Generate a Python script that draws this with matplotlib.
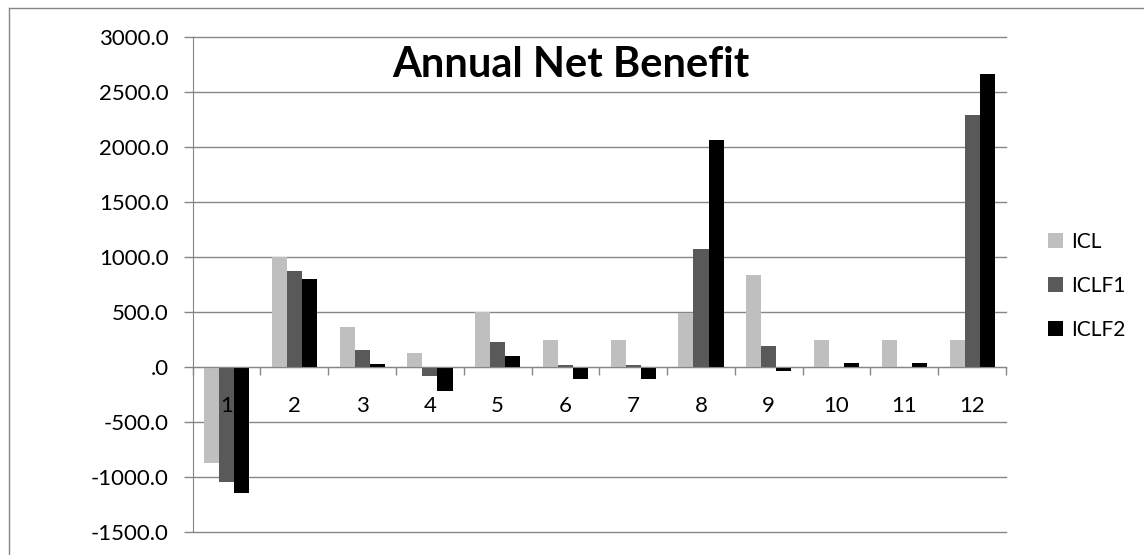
import matplotlib

matplotlib.use("Agg")
import matplotlib.pyplot as plt
import matplotlib.ticker as tick
import matplotlib.transforms as mtrans
import numpy as np
from matplotlib.lines import Line2D
from matplotlib.patches import Patch

months = [str(i) for i in range(1, 13)]
icl = [-870, 1000, 366, 130, 503, 250, 250, 490, 840, 250, 250, 250]
iclf1 = [-1040, 875, 157, -79, 230, 25, 25, 1075, 194, -8, -8, 2294]
iclf2 = [-1140, 803, 30, -212, 103, -105, -105, 2066, -30, 39, 40, 2666]
series_names = ["ICL", "ICLF1", "ICLF2"]
colors = ["#bfbfbf", "#595959", "#000000"]
title = "Annual Net Benefit"

plt.rcParams["font.family"] = ["Lato", "DejaVu Sans"]
grid_col = "#868686"

W, H = 1144, 555
fig = plt.figure(figsize=(W / 100, H / 100), dpi=100)
ax = fig.add_axes([192.7 / W, 1 - 532.3 / H, (1006 - 192.7) / W, (532.3 - 37.3) / H])

x = np.arange(1, len(months) + 1)
w = 1 / 4.5
for k, (vals, c) in enumerate(zip([icl, iclf1, iclf2], colors)):
    ax.bar(x + (k - 1) * w, vals, width=w, color=c, zorder=2)

ax.set_xlim(0.5, len(months) + 0.5)
ax.set_ylim(-1500, 3000)
ax.yaxis.set_major_locator(tick.MultipleLocator(500))


def fmt(v, pos):
    s = f"{v:.1f}"
    return ".0" if s in ("0.0", "-0.0") else s


ax.yaxis.set_major_formatter(tick.FuncFormatter(fmt))
ax.set_axisbelow(True)
ax.yaxis.grid(True, color=grid_col, lw=1.0)
for gl in ax.yaxis.get_gridlines():
    gl.set_clip_on(False)
ax.tick_params(axis="y", direction="out", length=6.5, width=1.0, color=grid_col,
               pad=11, labelsize=16, labelcolor="black")

for s in ["top", "right"]:
    ax.spines[s].set_visible(False)
ax.spines["left"].set_color(grid_col)
ax.spines["bottom"].set_position(("data", 0))
ax.spines["bottom"].set_color(grid_col)
ax.set_xticks(np.arange(0.5, len(months) + 1, 1.0))
ax.tick_params(axis="x", direction="out", length=6, width=1.0, color=grid_col,
               labelbottom=False)

# category labels drawn over the bars
lab_tr = mtrans.offset_copy(ax.transData, fig=fig, y=-44.7, units="dots")
for xi, m in zip(x, months):
    ax.text(xi, 0, m, transform=lab_tr, ha="center", va="baseline", fontsize=16, zorder=5)

fig.text(570.5 / W, 1 - 77 / H, title, ha="center", va="baseline",
         fontsize=30, fontweight="bold")

handles = [Patch(facecolor=c, edgecolor="none") for c in colors]
fig.legend(handles, series_names, loc="center left", bbox_to_anchor=(1048 / W, 1 - 286 / H),
           frameon=False, fontsize=15, borderpad=0, borderaxespad=0,
           handlelength=0.72, handleheight=0.72, handletextpad=0.4, labelspacing=1.15)

# chart area border (top and left edges visible)
fig.add_artist(Line2D([9 / W, 1], [1 - 8 / H, 1 - 8 / H], color=grid_col, lw=1.0))
fig.add_artist(Line2D([9 / W, 9 / W], [0, 1 - 8 / H], color=grid_col, lw=1.0))

fig.savefig("out.png", dpi=100)
